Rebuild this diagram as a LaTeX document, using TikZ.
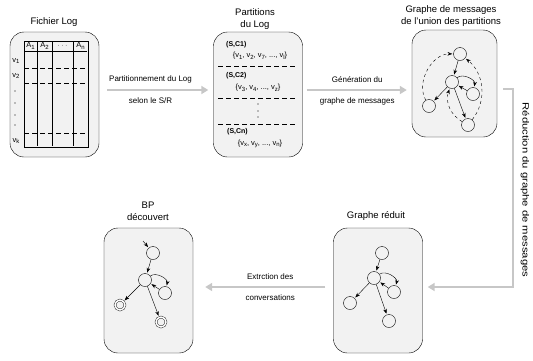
\documentclass[tikz,border=0pt]{standalone}
\usepackage{fontspec}
\setmainfont{Liberation Sans}
\usetikzlibrary{automata,positioning,arrows.meta}

\newcommand{\vsub}[2]{#1\raisebox{-0.3ex}{\scalebox{0.8}{#2}}}

\tikzset{
  phase/.style={draw, thin, fill=black!5, rounded corners=14pt, minimum width=89pt, minimum height=125pt},
  flow/.style={draw=black!22, line width=2pt, -{Triangle[length=7pt,width=8pt]}},
  title/.style={font=\fontsize{9.5}{12}\selectfont, align=center},
  lbl/.style={font=\fontsize{8}{10}\selectfont},
  cell/.style={font=\fontsize{7.5}{8}\selectfont, inner sep=0pt},
  part/.style={cell, font=\fontsize{7}{8}\bfseries, anchor=west},
  msg/.style={state, minimum size=13pt, inner sep=0pt, thin},
  fin/.style={msg, accepting, minimum size=10pt, double distance=1.5pt},
  rowcut/.style={dash pattern=on 5pt off 3pt},
}

\begin{document}
\begin{tikzpicture}[x=1pt,y=1pt,shorten >=1pt,>=Stealth,auto]
\useasboundingbox (0,-360) rectangle (533,0);

% the five phases
\node[phase] (log) at (54.5,-94.5) {};
\node[phase] (parts) at (258,-94.5) {};
\node[phase, minimum width=85pt, minimum height=107pt] (union) at (454.5,-83.5) {};
\node[phase] (reduit) at (378,-290.5) {};
\node[phase] (bp) at (148.5,-290.5) {};

\node[title] (t_log) at (54,-22) {Fichier Log};
\node[title] (t_parts) at (255,-19) {Partitions\\du Log};
\node[title] (t_union) at (451,-16) {Graphe de messages\\de l'union des partitions};
\node[title] (t_reduit) at (376,-216) {Graphe réduit};
\node[title] (t_bp) at (148,-211) {BP\\découvert};

% log table
\draw (24,-41) rectangle (88,-147);
\foreach \x in {37,52,73} \draw (\x,-41) -- (\x,-147);
\draw (24,-51) -- (88,-51);
\foreach \y in {68,83,133} \draw[rowcut] (24,-\y) -- (88,-\y);
\node[cell] (a_1) at (30.5,-46) {\vsub{A}{1}};
\node[cell] (a_2) at (44.5,-46) {\vsub{A}{2}};
\node[cell] (a_dots) at (62.5,-46) {$\cdots$};
\node[cell] (a_n) at (80.5,-46) {\vsub{A}{n}};
\node[cell] (v_1) at (16,-61) {\vsub{v}{1}};
\node[cell] (v_2) at (16,-76) {\vsub{v}{2}};
\node[cell] (v_k) at (16,-141) {\vsub{v}{k}};
\foreach \y in {91,103,115,125} \fill (15,-\y) circle (0.6pt);

% partitions
\node[part] (s_1) at (226,-45) {(S,C1)};
\node[cell] (p_1) at (260,-56) {\{\vsub{v}{1}, \vsub{v}{2}, \vsub{v}{7}, ..., \vsub{v}{l}\}};
\node[part] (s_2) at (226,-76) {(S,C2)};
\node[cell] (p_2) at (258,-88) {\{\vsub{v}{3}, \vsub{v}{4}, ..., \vsub{v}{z}\}};
\node[part] (s_n) at (227,-132) {(S,Cn)};
\node[cell] (p_n) at (260,-144) {\{\vsub{v}{x}, \vsub{v}{y}, ..., \vsub{v}{n}\}};
\foreach \y in {66,98,124} \draw[rowcut] (218,-\y) -- (298,-\y);
\foreach \y in {104,111,117} \fill (258,-\y) circle (0.7pt);

% message graph of the union
\node[msg] (u_0) at (460,-54) {};
\node[msg] (u_1) at (452,-82) {};
\node[msg] (u_2) at (473,-94) {};
\node[msg] (u_3) at (429,-106) {};
\node[msg] (u_4) at (468,-125) {};

\path[->]
(u_0) edge (u_1)
(u_1) edge (u_3)
(u_1) edge (u_4)
(u_1) edge [bend left=70] (u_2)
(u_2) edge (u_1)
(u_3) edge [bend left=60, dashed] (u_0)
(u_4) edge [bend right=45, dashed] (u_0)
(u_4) edge [bend left=40, dashed] (u_1)
; %end path

% reduced graph
\node[msg] (r_0) at (382,-253) {};
\node[msg] (r_1) at (374,-278) {};
\node[msg] (r_2) at (394,-292) {};
\node[msg] (r_3) at (350,-303) {};
\node[msg] (r_4) at (389,-321) {};

\path[->]
(r_0) edge (r_1)
(r_1) edge (r_3)
(r_1) edge (r_4)
(r_1) edge [bend left=70] (r_2)
(r_2) edge (r_1)
; %end path

% discovered process
\coordinate (b_in) at (143,-241);
\node[msg] (b_0) at (153,-253) {};
\node[msg] (b_1) at (145,-280) {};
\node[msg] (b_2) at (165,-293) {};
\node[fin] (b_3) at (120,-305) {};
\node[fin] (b_4) at (161,-322) {};

\path[->]
(b_in) edge (b_0)
(b_0) edge (b_1)
(b_1) edge (b_3)
(b_1) edge (b_4)
(b_1) edge [bend left=70] (b_2)
(b_2) edge (b_1)
; %end path

% flow between phases
\draw[flow, shorten <=8pt, shorten >=5pt] ([yshift=4.5pt]log.east) -- ([yshift=4.5pt]parts.west)
  node[lbl, pos=0.45, above=3pt] {Partitionnement du Log}
  node[lbl, pos=0.45, below=3pt] {selon le S/R};
\draw[flow, shorten <=4pt, shorten >=5pt] ([yshift=4.5pt]parts.east) -- ([yshift=4.5pt]parts.east -| union.west)
  node[lbl, midway, above=3pt] {Génération du}
  node[lbl, midway, below=3pt] {graphe de messages};
\draw[flow, shorten <=6pt, shorten >=5pt] ([yshift=-5.5pt]union.east) -- ++(16,0) |- ([yshift=3.5pt]reduit.east);
\node[lbl, font=\fontsize{9}{10}\selectfont, rotate=-90, xscale=1.25] (red_lbl) at (525,-190) {Réduction du graphe de messages};
\draw[flow, shorten <=8pt, shorten >=12pt] ([yshift=3.5pt]reduit.west) -- ([yshift=3.5pt]reduit.west -| bp.east)
  node[lbl, pos=0.45, above=3pt] {Extrction des}
  node[lbl, pos=0.45, below=3pt] {conversations};
\end{tikzpicture}
\end{document}
